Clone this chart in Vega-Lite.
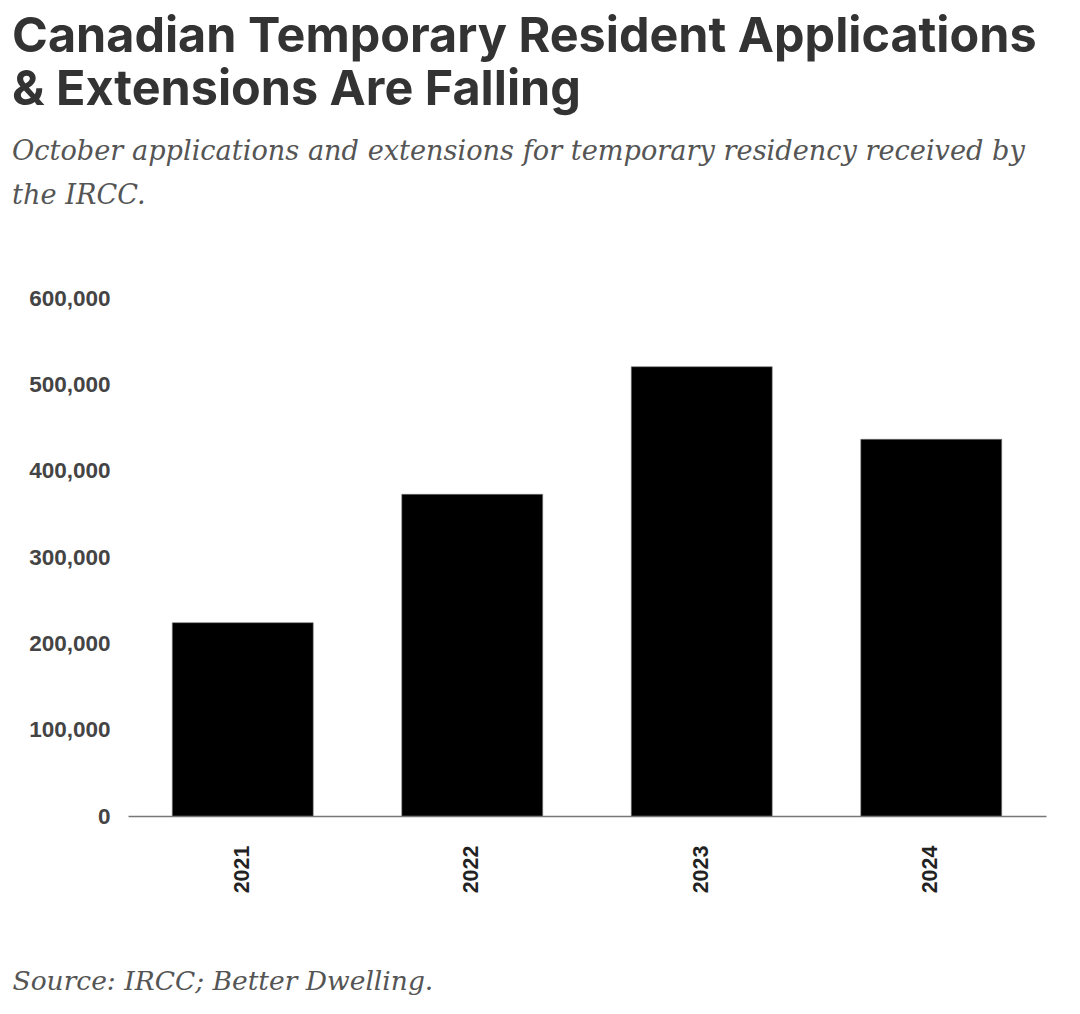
{
  "$schema": "https://vega.github.io/schema/vega-lite/v6.json",
  "autosize": "none",
  "width": 918,
  "height": 518,
  "padding": {"left": 128, "top": 298, "right": 34, "bottom": 198},
  "background": "white",
  "title": {
    "text": ["Canadian Temporary Resident Applications", "& Extensions Are Falling"],
    "subtitle": ["October applications and extensions for temporary residency received by", "the IRCC."],
    "anchor": "start",
    "frame": "group",
    "dx": -116,
    "offset": 77,
    "font": "Inter",
    "fontWeight": 700,
    "fontSize": 48.5,
    "lineHeight": 53,
    "color": "#333333",
    "subtitleFont": "DejaVu Serif",
    "subtitleFontStyle": "italic",
    "subtitleFontSize": 27.2,
    "subtitleLineHeight": 44,
    "subtitleColor": "#555555",
    "subtitlePadding": 23
  },
  "data": {
    "values": [
      {"year": "2021", "applications": 223900},
      {"year": "2022", "applications": 372600},
      {"year": "2023", "applications": 520400},
      {"year": "2024", "applications": 436300}
    ]
  },
  "mark": {"type": "bar", "color": "#000000", "stroke": "#777777", "strokeWidth": 0.6},
  "encoding": {
    "x": {
      "field": "year",
      "type": "ordinal",
      "scale": {"paddingInner": 0.386, "paddingOuter": 0.193},
      "axis": {
        "title": "Source: IRCC; Better Dwelling.",
        "titleX": -116,
        "titleY": 173,
        "titleAlign": "left",
        "titleAnchor": null,
        "titleBaseline": "alphabetic",
        "titleFont": "DejaVu Serif",
        "titleFontStyle": "italic",
        "titleFontWeight": "normal",
        "titleFontSize": 26.5,
        "titleColor": "#555555",
        "labelAngle": -90,
        "labelAlign": "right",
        "labelBaseline": "middle",
        "labelFont": "Liberation Sans",
        "labelFontWeight": "bold",
        "labelFontSize": 21.5,
        "labelColor": "#222222",
        "labelPadding": 29,
        "ticks": false,
        "domainColor": "#777777",
        "domainWidth": 1.5
      }
    },
    "y": {
      "field": "applications",
      "type": "quantitative",
      "scale": {"domain": [0, 600000], "nice": false},
      "axis": {
        "title": null,
        "values": [0, 100000, 200000, 300000, 400000, 500000, 600000],
        "format": ",d",
        "grid": false,
        "domain": false,
        "ticks": false,
        "labelFont": "Liberation Sans",
        "labelFontWeight": "bold",
        "labelFontSize": 22.5,
        "labelColor": "#444444",
        "labelPadding": 18
      }
    }
  },
  "config": {"view": {"stroke": null}}
}
